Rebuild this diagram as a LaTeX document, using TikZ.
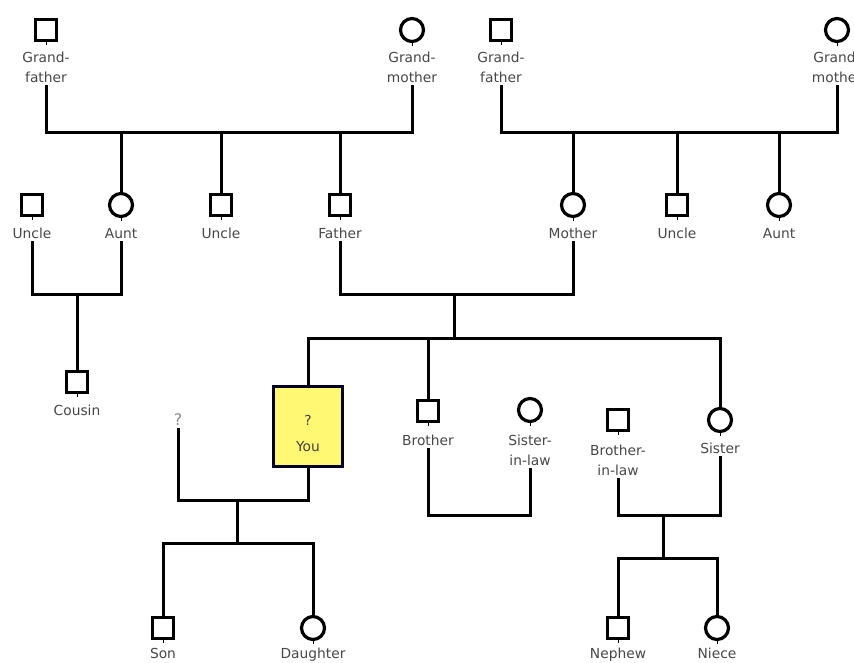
\documentclass[tikz,border=0pt]{standalone}
\usepackage{fontspec}
\setmainfont{DejaVu Sans}
\begin{document}
\begin{tikzpicture}[x=1pt,y=-1pt,
  line width=3pt,
  male/.style={draw, line width=3.2pt, rectangle, minimum size=21pt, inner sep=0pt, fill=white},
  female/.style={draw, line width=3.2pt, circle, minimum size=23pt, inner sep=0pt, fill=white},
  lbl/.style={font=\fontsize{13.8}{20}\selectfont, text=black!72, inner sep=2.5pt, align=center, anchor=north},
  link/.style={line width=3pt, line cap=rect},
  stub/.style={line width=1pt},
  youbox/.style={draw=black!85!blue, line width=3pt, fill=yellow!55!white, minimum width=69pt, minimum height=80pt, inner sep=0pt},
  youtxt/.style={font=\fontsize{13.8}{20}\selectfont, text=black!75, inner sep=0pt},
  unk/.style={font=\fontsize{16}{20}\selectfont, text=black!45, inner sep=2pt}
]
\useasboundingbox (0,0) rectangle (854,663);
% ---- row 1: grandparents
\node[male]   (gf1) at (46,30) {};
\node[female] (gm1) at (412,30) {};
\node[male]   (gf2) at (501,30) {};
\node[female] (gm2) at (837,30) {};
\node[lbl] (gf1L) at (46,48) {Grand-\\father};
\node[lbl] (gm1L) at (412,48) {Grand-\\mother};
\node[lbl] (gf2L) at (501,48) {Grand-\\father};
\node[lbl] (gm2L) at (837,48) {Grand-\\mother};
% ---- row 2
\node[male]   (u1) at (32,205) {};
\node[female] (a1) at (121,205) {};
\node[male]   (u2) at (221,205) {};
\node[male]   (fa) at (340,205) {};
\node[female] (mo) at (573,205) {};
\node[male]   (u3) at (677,205) {};
\node[female] (a2) at (779,205) {};
\node[lbl] (u1L) at (32,224) {Uncle};
\node[lbl] (a1L) at (121,224) {Aunt};
\node[lbl] (u2L) at (221,224) {Uncle};
\node[lbl] (faL) at (340,224) {Father};
\node[lbl] (moL) at (573,224) {Mother};
\node[lbl] (u3L) at (677,224) {Uncle};
\node[lbl] (a2L) at (779,224) {Aunt};
% ---- cousin
\node[male] (co) at (77,382) {};
\node[lbl] (coL) at (77,401) {Cousin};
% ---- row 3
\node[youbox] (you) at (308,426) {};
\node[youtxt] (youQ) at (308,420) {?};
\node[youtxt] (youT) at (308,447) {You};
\node[unk] (sp) at (178,420) {?};
\node[male]   (br) at (428,411) {};
\node[female] (sil) at (530,410) {};
\node[male]   (bil) at (618,420) {};
\node[female] (si) at (720,420) {};
\node[lbl] (brL) at (428,431) {Brother};
\node[lbl] (silL) at (530,431) {Sister-\\in-law};
\node[lbl] (bilL) at (618,441) {Brother-\\in-law};
\node[lbl] (siL) at (720,439) {Sister};
% ---- row 4
\node[male]   (son) at (163,628) {};
\node[female] (da) at (313,628) {};
\node[male]   (ne) at (618,628) {};
\node[female] (ni) at (717,628) {};
\node[lbl] (sonL) at (163,644) {Son};
\node[lbl] (daL) at (313,644) {Daughter};
\node[lbl] (neL) at (618,644) {Nephew};
\node[lbl] (niL) at (717,644) {Niece};
% ---- small stubs under symbols
\foreach \n in {gf1,gm1,gf2,gm2,u1,a1,u2,fa,mo,u3,a2,co,br,sil,bil,si,son,da,ne,ni}
  \draw[stub] (\n.south) -- ++(0,3);
% ---- junction levels
\coordinate (b1) at (0,133);
\coordinate (b2) at (0,294);
\coordinate (b3) at (0,338);
\coordinate (b4) at (0,500);
\coordinate (b5) at (0,543);
\coordinate (b6) at (0,515);
\coordinate (b7) at (0,558);
\coordinate (j2) at (454,0);
\coordinate (j3) at (237,0);
\coordinate (j4) at (663,0);
% grandparents (left)
\draw[link] (gf1L.south) |- (b1 -| gm1L.south) -- (gm1L.south);
\foreach \c in {a1,u2,fa} \draw[link] (\c.north) -- (\c.north |- b1);
% grandparents (right)
\draw[link] (gf2L.south) |- (b1 -| gm2L.south) -- (gm2L.south);
\foreach \c in {mo,u3,a2} \draw[link] (\c.north) -- (\c.north |- b1);
% uncle + aunt -> cousin
\draw[link] (u1L.south) |- (b2 -| a1L.south) -- (a1L.south);
\draw[link] (co.north) -- (co.north |- b2);
% father + mother -> children
\draw[link] (faL.south) |- (b2 -| moL.south) -- (moL.south);
\draw[link] (j2 |- b2) -- (j2 |- b3);
\draw[link] (you.north) |- (b3 -| si.north) -- (si.north);
\draw[link] (br.north) -- (br.north |- b3);
% you + ? -> son, daughter
\draw[link] (sp.south) |- (b4 -| you.south) -- (you.south);
\draw[link] (j3 |- b4) -- (j3 |- b5);
\draw[link] (son.north) |- (b5 -| da.north) -- (da.north);
% brother + sister-in-law
\draw[link] (brL.south) |- (b6 -| silL.south) -- (silL.south);
% brother-in-law + sister -> nephew, niece
\draw[link] (bilL.south) |- (b6 -| siL.south) -- (siL.south);
\draw[link] (j4 |- b6) -- (j4 |- b7);
\draw[link] (ne.north) |- (b7 -| ni.north) -- (ni.north);
\end{tikzpicture}
\end{document}
